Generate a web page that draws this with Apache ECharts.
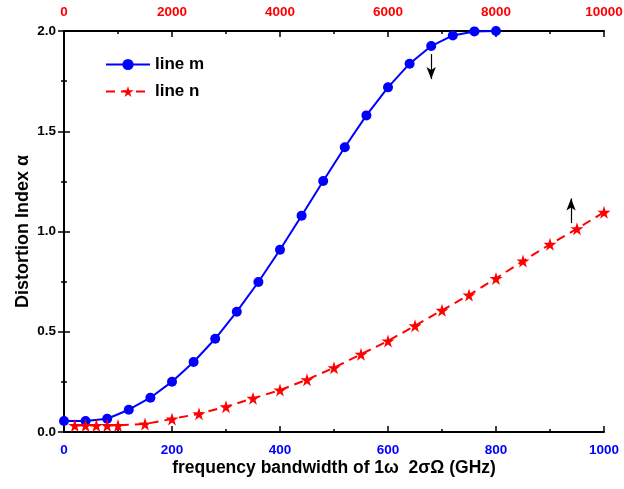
<!DOCTYPE html>
<html>
<head>
<meta charset="utf-8">
<script src="https://cdn.jsdelivr.net/npm/echarts@6/dist/echarts.min.js"></script>
<style>
  html, body { margin: 0; padding: 0; background: #fff; }
  #main { width: 624px; height: 489px; }
</style>
</head>
<body>
<div id="main"></div>
<script>
// line m, bottom axis (GHz)
var mX = [0, 40, 80, 120, 160, 200, 240, 280, 320, 360, 400, 440, 480, 520, 560, 600, 640, 680, 720, 760, 800];
var mY = [0.055, 0.055, 0.066, 0.111, 0.171, 0.251, 0.349, 0.465, 0.600, 0.748, 0.909, 1.079, 1.252, 1.42, 1.579, 1.719, 1.837, 1.925, 1.978, 1.998, 2.0];
// line n, top axis
var nX = [200, 400, 600, 800, 1000, 1500, 2000, 2500, 3000, 3500, 4000, 4500, 5000, 5500, 6000, 6500, 7000, 7500, 8000, 8500, 9000, 9500, 10000];
var nY = [0.033, 0.033, 0.033, 0.033, 0.033, 0.04, 0.065, 0.091, 0.126, 0.168, 0.209, 0.261, 0.321, 0.388, 0.454, 0.53, 0.607, 0.683, 0.766, 0.853, 0.936, 1.014, 1.096];

var font = 'Liberation Sans, Arial, sans-serif';
var star = 'path://M50,0 L61,35 L98,35 L68,57 L79,91 L50,70 L21,91 L32,57 L2,35 L39,35 Z';

function pairs(xs, ys) {
    var out = [];
    for (var i = 0; i < xs.length; i++) out.push([xs[i], ys[i]]);
    return out;
}

var myChart = echarts.init(document.getElementById('main'));

function axisX(pos, max, step, color, margin, extra) {
    var a = {
        type: 'value', position: pos, min: 0, max: max, interval: step,
        axisLine: { show: true, onZero: false, lineStyle: { color: '#000', width: 2 } },
        axisTick: { show: true, inside: true, length: 6, lineStyle: { color: '#000', width: 1.5 } },
        minorTick: { show: true, splitNumber: 2, length: 3, lineStyle: { color: '#000', width: 1.5 } },
        splitLine: { show: false },
        axisLabel: {
            color: color, fontWeight: 'bold', fontSize: 13.5, fontFamily: font, margin: margin,
            formatter: function (v) { return String(v); }
        }
    };
    for (var k in extra) a[k] = extra[k];
    return a;
}

var option = {
    animation: false,
    backgroundColor: '#fff',
    grid: { left: 64, right: 20, top: 31, bottom: 57, containLabel: false, outerBoundsMode: 'none' },
    legend: {
        orient: 'vertical', left: 100, top: 51, itemGap: 10,
        itemWidth: 44, itemHeight: 14,
        textStyle: { fontWeight: 'bold', fontSize: 17, fontFamily: font, color: '#000' },
        data: ['line m', 'line n']
    },
    xAxis: [
        axisX('bottom', 1000, 200, '#0000ff', 11, {
            name: 'frequency bandwidth of 1\u03c9  2\u03c3\u03a9 (GHz)',
            nameLocation: 'middle', nameGap: 27, nameMoveOverlap: false,
            nameTextStyle: { fontWeight: 'bold', fontSize: 17.5, fontFamily: font, color: '#000' }
        }),
        axisX('top', 10000, 2000, '#ff0000', 12, {})
    ],
    yAxis: [
        {
            type: 'value', min: 0, max: 2, interval: 0.5,
            name: 'Distortion Index \u03b1', nameLocation: 'middle', nameGap: 32, nameMoveOverlap: false,
            nameTextStyle: { fontWeight: 'bold', fontSize: 18, fontFamily: font, color: '#000' },
            axisLine: { show: true, lineStyle: { color: '#000', width: 2 } },
            axisTick: { show: true, inside: true, length: 6, lineStyle: { color: '#000', width: 1.5 } },
            minorTick: { show: true, splitNumber: 2, length: 3, lineStyle: { color: '#000', width: 1.5 } },
            splitLine: { show: false },
            axisLabel: {
                color: '#000', fontWeight: 'bold', fontSize: 13.5, fontFamily: font, margin: 8,
                formatter: function (v) { return v.toFixed(1); }
            }
        },
        {
            type: 'value', position: 'right', min: 0, max: 2, interval: 0.5,
            axisLine: { show: true, lineStyle: { color: '#000', width: 2 } },
            axisTick: { show: true, inside: true, length: 6, lineStyle: { color: '#000', width: 1.5 } },
            minorTick: { show: true, splitNumber: 2, length: 3, lineStyle: { color: '#000', width: 1.5 } },
            splitLine: { show: false },
            axisLabel: { show: false }
        }
    ],
    series: [
        {
            name: 'line m', type: 'line', xAxisIndex: 0, yAxisIndex: 0,
            data: pairs(mX, mY),
            symbol: 'circle', symbolSize: 10,
            itemStyle: { color: '#0000ff' },
            lineStyle: { color: '#0000ff', width: 2 },
            markLine: {
                silent: true, symbol: ['none', 'arrow'], symbolSize: [7, 12],
                label: { show: false },
                lineStyle: { color: '#000', width: 1.2, type: 'solid' },
                data: [[{ coord: [680, 1.885] }, { coord: [680, 1.76] }]]
            }
        },
        {
            name: 'line n', type: 'line', xAxisIndex: 1, yAxisIndex: 0,
            data: pairs(nX, nY),
            symbol: star, symbolSize: 13,
            itemStyle: { color: '#ff0000' },
            lineStyle: { color: '#ff0000', width: 2, type: [9, 6] },
            markLine: {
                silent: true, symbol: ['none', 'arrow'], symbolSize: [7, 12],
                label: { show: false },
                lineStyle: { color: '#000', width: 1.2, type: 'solid' },
                data: [[{ coord: [9390, 1.042] }, { coord: [9390, 1.165] }]]
            }
        }
    ]
};

myChart.setOption(option);
</script>
</body>
</html>
